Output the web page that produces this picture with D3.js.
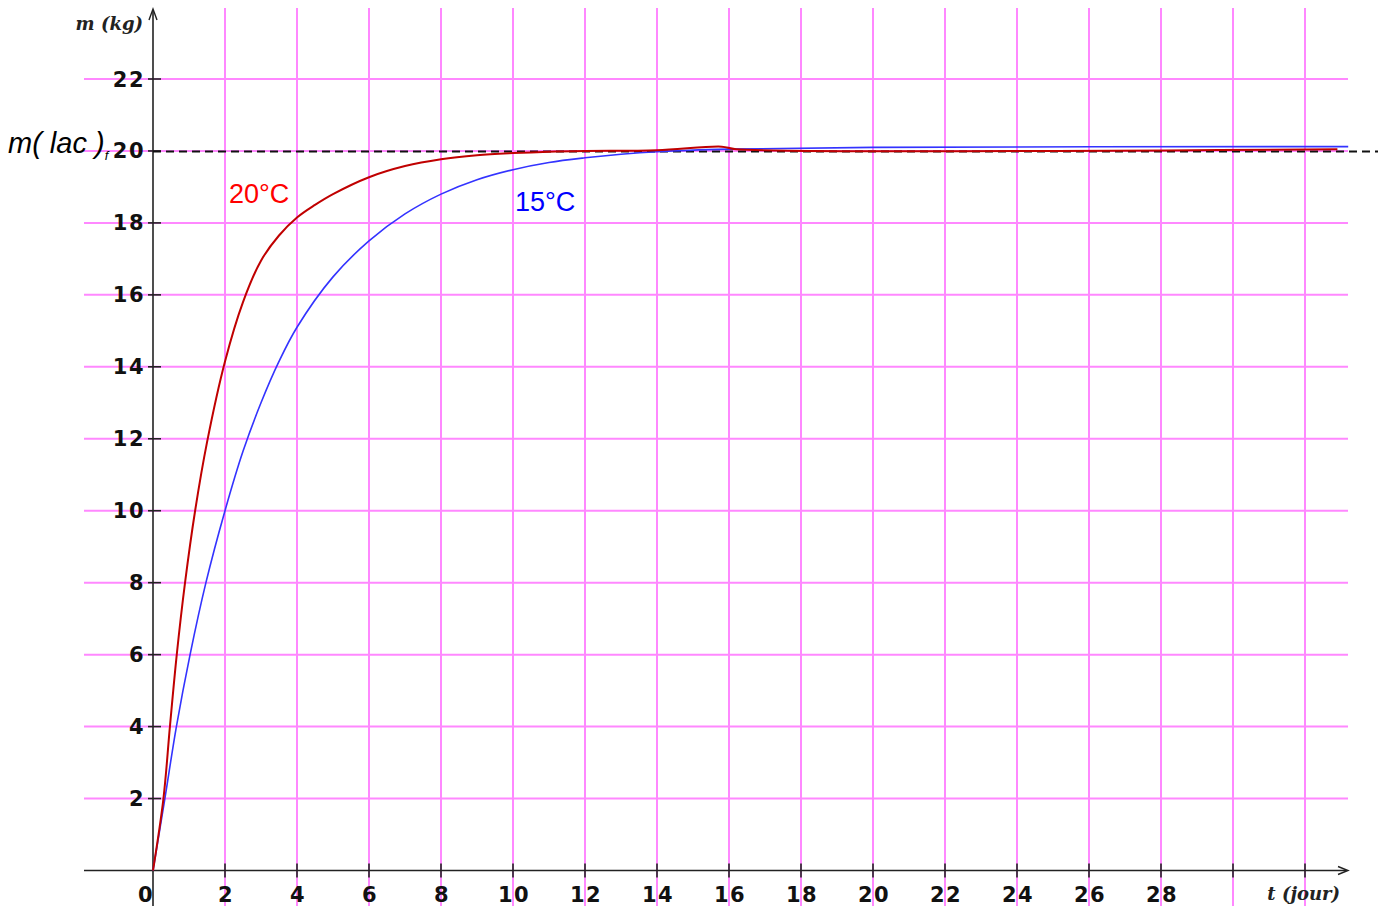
<!DOCTYPE html>
<html>
<head>
<meta charset="utf-8">
<script src="https://cdn.jsdelivr.net/npm/d3@7"></script>
<style>
  html, body { margin: 0; padding: 0; background: #fff; }
  svg { display: block; }
</style>
</head>
<body>
<script>
// ---- data ----
const xTicks = [0, 2, 4, 6, 8, 10, 12, 14, 16, 18, 20, 22, 24, 26, 28];
const xTickMarks = [2, 4, 6, 8, 10, 12, 14, 16, 18, 20, 22, 24, 26, 28, 30, 32];
const yTicks = [2, 4, 6, 8, 10, 12, 14, 16, 18, 20, 22];

const red20T = [0, 0.29, 0.47, 0.66, 0.89, 1.17, 1.5, 2, 2.5, 3, 3.5, 4, 4.5, 5, 6, 7, 8, 9, 10, 11, 12, 14, 15.8, 16.2, 32.9];
const red20M = [0, 2, 4, 6, 8, 10, 11.9, 14.15, 15.8, 16.95, 17.65, 18.15, 18.5, 18.8, 19.27, 19.58, 19.77, 19.88, 19.94, 19.98, 20.0, 20.02, 20.12, 20.05, 20.05];

const blue15T = [0, 0.33, 0.65, 1.03, 1.47, 2, 2.5, 3, 3.5, 4, 5, 6, 7, 8, 9, 10, 11, 12, 13, 14, 16, 20, 33.2];
const blue15M = [0, 2, 4, 6, 8, 10, 11.65, 13, 14.15, 15.1, 16.5, 17.5, 18.25, 18.8, 19.2, 19.48, 19.68, 19.81, 19.91, 19.98, 20.05, 20.1, 20.12];

const mLacF = 20;

// ---- layout ----
const W = 1378, H = 906;
const svg = d3.select("body").append("svg").attr("width", W).attr("height", H);

const x = d3.scaleLinear().domain([0, 28]).range([153, 1161]);
const y = d3.scaleLinear().domain([0, 22]).range([870.5, 79]);

const pink = "#ff88ff";
const xLeft = 84, xRight = 1348;

// horizontal grid
svg.append("g").selectAll("line").data(yTicks).join("line")
  .attr("x1", xLeft).attr("x2", xRight)
  .attr("y1", d => y(d)).attr("y2", d => y(d))
  .attr("stroke", pink).attr("stroke-width", 2);

// vertical grid
svg.append("g").selectAll("line").data(xTickMarks).join("line")
  .attr("x1", d => x(d)).attr("x2", d => x(d))
  .attr("y1", 8).attr("y2", H)
  .attr("stroke", pink).attr("stroke-width", 2);

// x axis
svg.append("line").attr("x1", xLeft).attr("x2", xRight - 2)
  .attr("y1", y(0)).attr("y2", y(0)).attr("stroke", "#222").attr("stroke-width", 1.6);
svg.append("path").attr("d", `M${xRight - 10},${y(0) - 4} L${xRight},${y(0)} L${xRight - 10},${y(0) + 4}`)
  .attr("fill", "none").attr("stroke", "#222").attr("stroke-width", 1.4);
svg.append("g").selectAll("line").data(xTickMarks).join("line")
  .attr("x1", d => x(d)).attr("x2", d => x(d))
  .attr("y1", y(0) - 7).attr("y2", y(0) + 7)
  .attr("stroke", "#222").attr("stroke-width", 1.6);

// y axis
svg.append("line").attr("x1", x(0)).attr("x2", x(0))
  .attr("y1", H).attr("y2", 10).attr("stroke", "#222").attr("stroke-width", 1.6);
svg.append("path").attr("d", `M${x(0) - 4},${20} L${x(0)},${9} L${x(0) + 4},${20}`)
  .attr("fill", "none").attr("stroke", "#222").attr("stroke-width", 1.4);
svg.append("g").selectAll("line").data(yTicks).join("line")
  .attr("x1", x(0) - 5).attr("x2", x(0) + 8)
  .attr("y1", d => y(d)).attr("y2", d => y(d))
  .attr("stroke", "#222").attr("stroke-width", 1.6);

// tick labels
const tickFont = "'DejaVu Sans', sans-serif";
svg.append("g").selectAll("text").data(yTicks).join("text")
  .attr("x", 145).attr("y", d => y(d) + 7.5)
  .attr("text-anchor", "end")
  .attr("font-family", tickFont).attr("font-weight", "bold").attr("font-size", 21)
  .attr("letter-spacing", 1.5)
  .attr("fill", "#111").text(d => d);

svg.append("g").selectAll("text").data(xTicks).join("text")
  .attr("x", d => d === 0 ? x(d) - 7 : x(d) + 1).attr("y", 902)
  .attr("text-anchor", "middle")
  .attr("font-family", tickFont).attr("font-weight", "bold").attr("font-size", 21)
  .attr("letter-spacing", 1.5)
  .attr("fill", "#111").text(d => d);

// axis titles
svg.append("text").attr("x", 143).attr("y", 30).attr("text-anchor", "end")
  .attr("font-family", "'DejaVu Serif', 'Liberation Serif', serif")
  .attr("font-style", "italic").attr("font-weight", "bold").attr("font-size", 18)
  .attr("fill", "#222").text("m (kg)");
svg.append("text").attr("x", 1340).attr("y", 900).attr("text-anchor", "end")
  .attr("font-family", "'DejaVu Serif', 'Liberation Serif', serif")
  .attr("font-style", "italic").attr("font-weight", "bold").attr("font-size", 18)
  .attr("fill", "#222").text("t (jour)");

// dashed asymptote
svg.append("line").attr("x1", x(0)).attr("x2", W)
  .attr("y1", y(mLacF) + 0.5).attr("y2", y(mLacF) + 0.5)
  .attr("stroke", "#111").attr("stroke-width", 2)
  .attr("stroke-dasharray", "8,5");

// curves
const line = d3.line().x(d => x(d[0])).y(d => y(d[1])).curve(d3.curveCatmullRom.alpha(0.5));
const blueData = blue15T.map((t, i) => [t, blue15M[i]]);
const redData = red20T.map((t, i) => [t, red20M[i]]);

svg.append("path").datum(blueData).attr("d", line)
  .attr("fill", "none").attr("stroke", "#3333ff").attr("stroke-width", 1.6);
svg.append("path").datum(redData).attr("d", line)
  .attr("fill", "none").attr("stroke", "#c00000").attr("stroke-width", 2);

// curve labels
svg.append("text").attr("x", 229).attr("y", 203)
  .attr("font-family", "'Liberation Sans', Arial, sans-serif").attr("font-size", 27)
  .attr("fill", "#ff0000").text("20°C");
svg.append("text").attr("x", 515).attr("y", 211)
  .attr("font-family", "'Liberation Sans', Arial, sans-serif").attr("font-size", 27)
  .attr("fill", "#0000ff").text("15°C");

// m(lac)f label
const lab = svg.append("text").attr("x", 8).attr("y", 153)
  .attr("font-family", "'Liberation Sans', Arial, sans-serif")
  .attr("font-style", "italic").attr("font-size", 29).attr("fill", "#000");
lab.append("tspan").text("m( lac )");
lab.append("tspan").attr("font-size", 13).attr("dy", 7).text("f");
</script>
</body>
</html>
